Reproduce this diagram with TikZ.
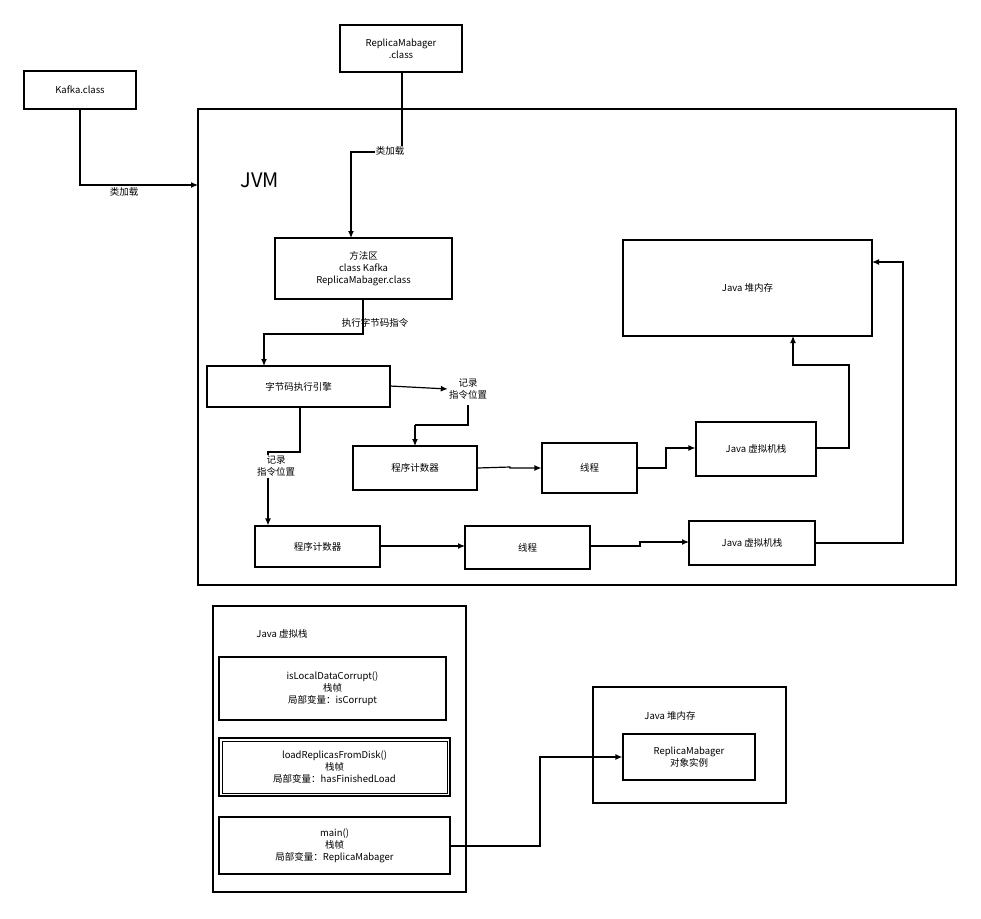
\documentclass[tikz,border=0pt]{standalone}
\usepackage{fontspec}
\setmainfont{Noto Sans CJK SC}
\usetikzlibrary{arrows.meta}
\begin{document}
\begin{tikzpicture}[x=1pt,y=-1pt,
  box/.style={draw,line width=1.2pt,inner sep=0pt,align=center,font=\fontsize{9.5}{12}\selectfont},
  lab/.style={font=\fontsize{9.5}{12}\selectfont,align=center,inner sep=1pt},
  con/.style={line width=1.2pt,-{Latex[length=7pt,width=6pt]}},
  ln/.style={line width=1.2pt}]
\fill[white] (0,0) rectangle (981,918);
\newcommand{\bx}[6]{\node[box,minimum width=#4-#2,minimum height=#5-#3] (#1) at ({(#2+#4)/2},{(#3+#5)/2}) {#6};}
\bx{kafka}{24}{71}{136}{109}{Kafka.class}
\bx{rmc}{340}{25}{462}{72}{ReplicaMabager\\.class}
\draw[line width=1.2pt] (198,109) rectangle (956,585);
\node[font=\fontsize{20}{24}\selectfont] (jvm) at (260,180) {JVM};
\bx{mth}{275}{238}{452}{299}{方法区\\class Kafka\\ReplicaMabager.class}
\bx{eng}{207}{366}{390}{407}{字节码执行引擎}
\bx{pc1}{353}{446}{477}{490}{程序计数器}
\bx{th1}{542}{443}{637}{493}{线程}
\bx{vs1}{696}{422}{816}{476}{Java 虚拟机栈}
\bx{heap}{623}{240}{872}{336}{Java 堆内存}
\bx{pc2}{255}{526}{380}{567}{程序计数器}
\bx{th2}{465}{526}{590}{569}{线程}
\bx{vs2}{689}{521}{815}{565}{Java 虚拟机栈}
\draw[line width=1.2pt] (213,606) rectangle (466,892);
\node[lab] (vsl) at (282,634) {Java 虚拟栈};
\bx{f1}{219}{657}{446}{720}{isLocalDataCorrupt()\\栈帧\\局部变量：isCorrupt}
\bx{f2}{219}{738}{450}{796}{loadReplicasFromDisk()\\栈帧\\局部变量：hasFinishedLoad}
\draw[line width=0.6pt] (222,741) rectangle (447,793);
\bx{f3}{219}{817}{450}{874}{main()\\栈帧\\局部变量：ReplicaMabager}
\draw[line width=1.2pt] (593,687) rectangle (786,803);
\node[lab] (hl) at (670,716) {Java 堆内存};
\bx{obj}{623}{734}{755}{780}{ReplicaMabager\\对象实例}
% connectors
\coordinate (jvmL) at (198,185);
\draw[con] (kafka.south -| 80,0) -- (80,185) -- (jvmL);
\node[lab] (l1) at (124,192) {类加载};
\draw[con] (rmc.south -| 402,0) -- (402,152) -- (351,152) -- (351,238);
\node[lab,fill=white] (l2) at (390,151) {类加载};
\draw[con] (363,299) -- (363,334) -- (264,334) -- (264,366);
\node[lab] (l3) at (375,323) {执行字节码指令};
\node[lab] (r1) at (468,389) {记录\\指令位置};
\draw[con] (390,386) -- (r1.west);
\draw[con] (415,425) -- (415,446);
\draw[ln] (468,405) -- (468,425) -- (415,425);
\draw[ln] (300,407) -- (300,452) -- (268,452) -- (268,458);
\node[lab,fill=white] (r2) at (276,466) {记录\\指令位置};
\draw[con] (268,478) -- (pc2.north -| 268,0);
\draw[con] (pc1.east) -- (510,467) -- (510,468) -- (th1.west);
\draw[con] (th1.east) -- (666,468) -- (666,448) -- (vs1.west |- 0,448);
\draw[con] (vs1.east |- 0,448) -- (849,448) -- (849,365) -- (793,365) -- (793,336);
\draw[con] (pc2.east |- 0,546) -- (pc2.east |- 0,546) -- (465,546);
\draw[con] (590,546) -- (640,546) -- (640,542) -- (689,542);
\draw[con] (815,543) -- (903,543) -- (903,262) -- (872,262);
\draw[con] (f3.east |- 0,846) -- (540,846) -- (540,757) -- (obj.west |- 0,757);
\end{tikzpicture}
\end{document}
